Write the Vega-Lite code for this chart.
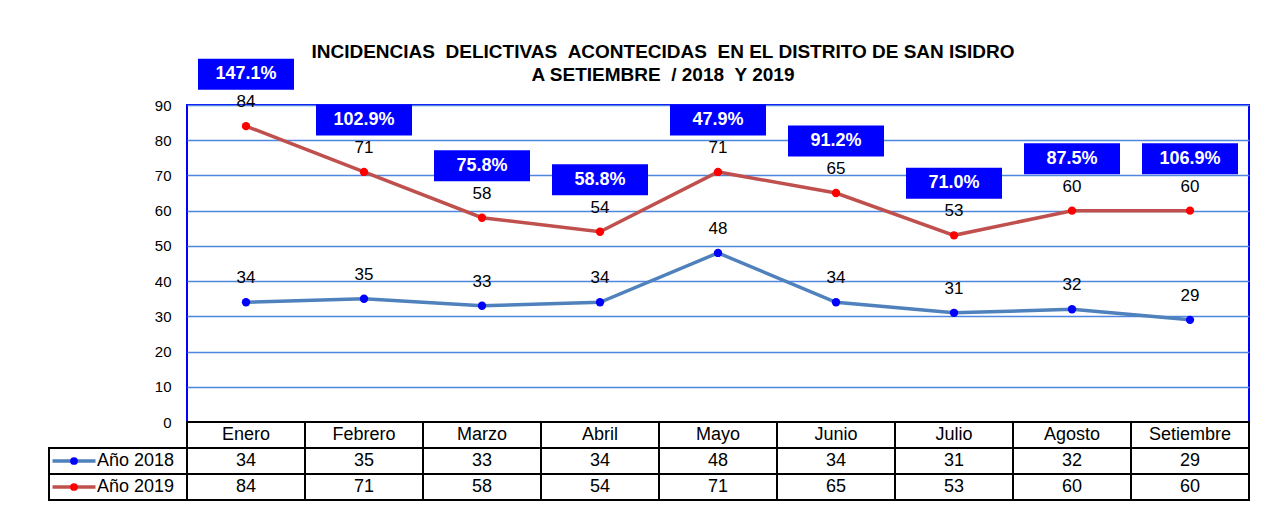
{
  "$schema": "https://vega.github.io/schema/vega-lite/v6.json",
  "background": "white",
  "padding": {"left": 48, "top": 42, "right": 5, "bottom": 5},
  "config": {"font": "Liberation Sans", "view": {"stroke": null}},
  "datasets": {
    "datos": [
      {"mes": "Enero", "serie": "Año 2018", "valor": 34},
      {"mes": "Febrero", "serie": "Año 2018", "valor": 35},
      {"mes": "Marzo", "serie": "Año 2018", "valor": 33},
      {"mes": "Abril", "serie": "Año 2018", "valor": 34},
      {"mes": "Mayo", "serie": "Año 2018", "valor": 48},
      {"mes": "Junio", "serie": "Año 2018", "valor": 34},
      {"mes": "Julio", "serie": "Año 2018", "valor": 31},
      {"mes": "Agosto", "serie": "Año 2018", "valor": 32},
      {"mes": "Setiembre", "serie": "Año 2018", "valor": 29},
      {"mes": "Enero", "serie": "Año 2019", "valor": 84},
      {"mes": "Febrero", "serie": "Año 2019", "valor": 71},
      {"mes": "Marzo", "serie": "Año 2019", "valor": 58},
      {"mes": "Abril", "serie": "Año 2019", "valor": 54},
      {"mes": "Mayo", "serie": "Año 2019", "valor": 71},
      {"mes": "Junio", "serie": "Año 2019", "valor": 65},
      {"mes": "Julio", "serie": "Año 2019", "valor": 53},
      {"mes": "Agosto", "serie": "Año 2019", "valor": 60},
      {"mes": "Setiembre", "serie": "Año 2019", "valor": 60}
    ],
    "pct": [
      {"mes": "Enero", "v2019": 84, "pct": "147.1%"},
      {"mes": "Febrero", "v2019": 71, "pct": "102.9%"},
      {"mes": "Marzo", "v2019": 58, "pct": "75.8%"},
      {"mes": "Abril", "v2019": 54, "pct": "58.8%"},
      {"mes": "Mayo", "v2019": 71, "pct": "47.9%"},
      {"mes": "Junio", "v2019": 65, "pct": "91.2%"},
      {"mes": "Julio", "v2019": 53, "pct": "71.0%"},
      {"mes": "Agosto", "v2019": 60, "pct": "87.5%"},
      {"mes": "Setiembre", "v2019": 60, "pct": "106.9%"}
    ],
    "series": [
      {"serie": "Año 2018"},
      {"serie": "Año 2019"}
    ]
  },
  "title": {
    "text": ["INCIDENCIAS \u00a0DELICTIVAS \u00a0ACONTECIDAS \u00a0EN EL DISTRITO DE SAN ISIDRO", "A SETIEMBRE \u00a0/ 2018 \u00a0Y 2019"],
    "fontSize": 19,
    "fontWeight": "bold",
    "lineHeight": 23,
    "color": "black",
    "anchor": "middle",
    "offset": -27,
    "dx": 14
  },
  "bounds": "flush",
  "spacing": 0,
  "vconcat": [
    {
      "width": 1062,
      "height": 317,
      "view": {"stroke": "#0000FF", "strokeWidth": 2},
      "encoding": {
        "x": {"field": "mes", "type": "ordinal", "sort": null, "scale": {"type": "point", "padding": 0.5}, "axis": null},
        "y": {
          "field": "valor", "type": "quantitative",
          "scale": {"domain": [0, 90], "nice": false},
          "axis": {"values": [0, 10, 20, 30, 40, 50, 60, 70, 80, 90], "tickCount": 10, "labelOverlap": false, "grid": true, "gridColor": "#4F86E0", "gridWidth": 1.5, "domain": false, "ticks": false, "labelFontSize": 15, "labelColor": "black", "labelPadding": 16, "title": null}
        }
      },
      "layer": [
        {
          "data": {"name": "datos"},
          "mark": {"type": "line", "strokeWidth": 3.5},
          "encoding": {
            "color": {"field": "serie", "type": "nominal", "scale": {"domain": ["Año 2018", "Año 2019"], "range": ["#4F81BD", "#C0504D"]}, "legend": null}
          }
        },
        {
          "data": {"name": "datos"},
          "mark": {"type": "point", "filled": true, "size": 70, "opacity": 1},
          "encoding": {
            "fill": {"field": "serie", "type": "nominal", "scale": {"domain": ["Año 2018", "Año 2019"], "range": ["#0000FF", "#FF0000"]}, "legend": null}
          }
        },
        {
          "data": {"name": "datos"},
          "mark": {"type": "text", "dy": -24, "fontSize": 17, "color": "black"},
          "encoding": {
            "text": {"field": "valor", "type": "quantitative"}
          }
        },
        {
          "data": {"name": "pct"},
          "mark": {"type": "rect", "width": 96, "height": 31, "yOffset": -52, "color": "#0000FF"},
          "encoding": {
            "y": {"field": "v2019", "type": "quantitative"}
          }
        },
        {
          "data": {"name": "pct"},
          "mark": {"type": "text", "yOffset": -52, "fontSize": 18, "fontWeight": "bold", "color": "white"},
          "encoding": {
            "y": {"field": "v2019", "type": "quantitative"},
            "text": {"field": "pct", "type": "nominal"}
          }
        }
      ]
    },
    {
      "width": 1062,
      "height": 78,
      "layer": [
        {
          "data": {"name": "pct"},
          "mark": {"type": "rect", "fill": "white", "stroke": "black", "strokeWidth": 2},
          "encoding": {
            "x": {"field": "mes", "type": "nominal", "sort": null, "scale": {"paddingInner": 0, "paddingOuter": 0}, "axis": null},
            "y": {"datum": "Mes", "type": "nominal", "scale": {"domain": ["Mes", "Año 2018", "Año 2019"], "paddingInner": 0, "paddingOuter": 0}, "axis": null}
          }
        },
        {
          "data": {"name": "pct"},
          "mark": {"type": "text", "fontSize": 18, "color": "black"},
          "encoding": {
            "x": {"field": "mes", "type": "nominal", "sort": null, "scale": {"paddingInner": 0, "paddingOuter": 0}, "axis": null},
            "y": {"datum": "Mes", "type": "nominal"},
            "text": {"field": "mes", "type": "nominal"}
          }
        },
        {
          "data": {"name": "datos"},
          "mark": {"type": "rect", "fill": "white", "stroke": "black", "strokeWidth": 2},
          "encoding": {
            "x": {"field": "mes", "type": "nominal", "sort": null, "scale": {"paddingInner": 0, "paddingOuter": 0}, "axis": null},
            "y": {"field": "serie", "type": "nominal"}
          }
        },
        {
          "data": {"name": "datos"},
          "mark": {"type": "text", "fontSize": 18, "color": "black"},
          "encoding": {
            "x": {"field": "mes", "type": "nominal", "sort": null, "scale": {"paddingInner": 0, "paddingOuter": 0}, "axis": null},
            "y": {"field": "serie", "type": "nominal"},
            "text": {"field": "valor", "type": "quantitative"}
          }
        },
        {
          "data": {"name": "series"},
          "mark": {"type": "rect", "fill": "white", "stroke": "black", "strokeWidth": 2},
          "encoding": {
            "x": {"datum": "L", "type": "nominal", "scale": {"domain": ["L"], "range": [-138, 0], "paddingInner": 0, "paddingOuter": 0}, "axis": null},
            "y": {"field": "serie", "type": "nominal"}
          }
        },
        {
          "data": {"name": "series"},
          "mark": {"type": "tick", "orient": "horizontal", "size": 43, "thickness": 3.5, "xOffset": -44, "opacity": 1},
          "encoding": {
            "x": {"datum": "L", "type": "nominal", "scale": {"domain": ["L"], "range": [-138, 0], "paddingInner": 0, "paddingOuter": 0}, "axis": null},
            "y": {"field": "serie", "type": "nominal"},
            "color": {"field": "serie", "type": "nominal", "scale": {"domain": ["Año 2018", "Año 2019"], "range": ["#4F81BD", "#C0504D"]}, "legend": null}
          }
        },
        {
          "data": {"name": "series"},
          "mark": {"type": "point", "filled": true, "size": 60, "opacity": 1, "xOffset": -44},
          "encoding": {
            "x": {"datum": "L", "type": "nominal", "scale": {"domain": ["L"], "range": [-138, 0], "paddingInner": 0, "paddingOuter": 0}, "axis": null},
            "y": {"field": "serie", "type": "nominal"},
            "fill": {"field": "serie", "type": "nominal", "scale": {"domain": ["Año 2018", "Año 2019"], "range": ["#0000FF", "#FF0000"]}, "legend": null}
          }
        },
        {
          "data": {"name": "series"},
          "mark": {"type": "text", "fontSize": 18, "color": "black", "align": "left", "xOffset": -21},
          "encoding": {
            "x": {"datum": "L", "type": "nominal", "scale": {"domain": ["L"], "range": [-138, 0], "paddingInner": 0, "paddingOuter": 0}, "axis": null},
            "y": {"field": "serie", "type": "nominal"},
            "text": {"field": "serie", "type": "nominal"}
          }
        }
      ],
      "resolve": {"scale": {"x": "independent"}}
    }
  ]
}
